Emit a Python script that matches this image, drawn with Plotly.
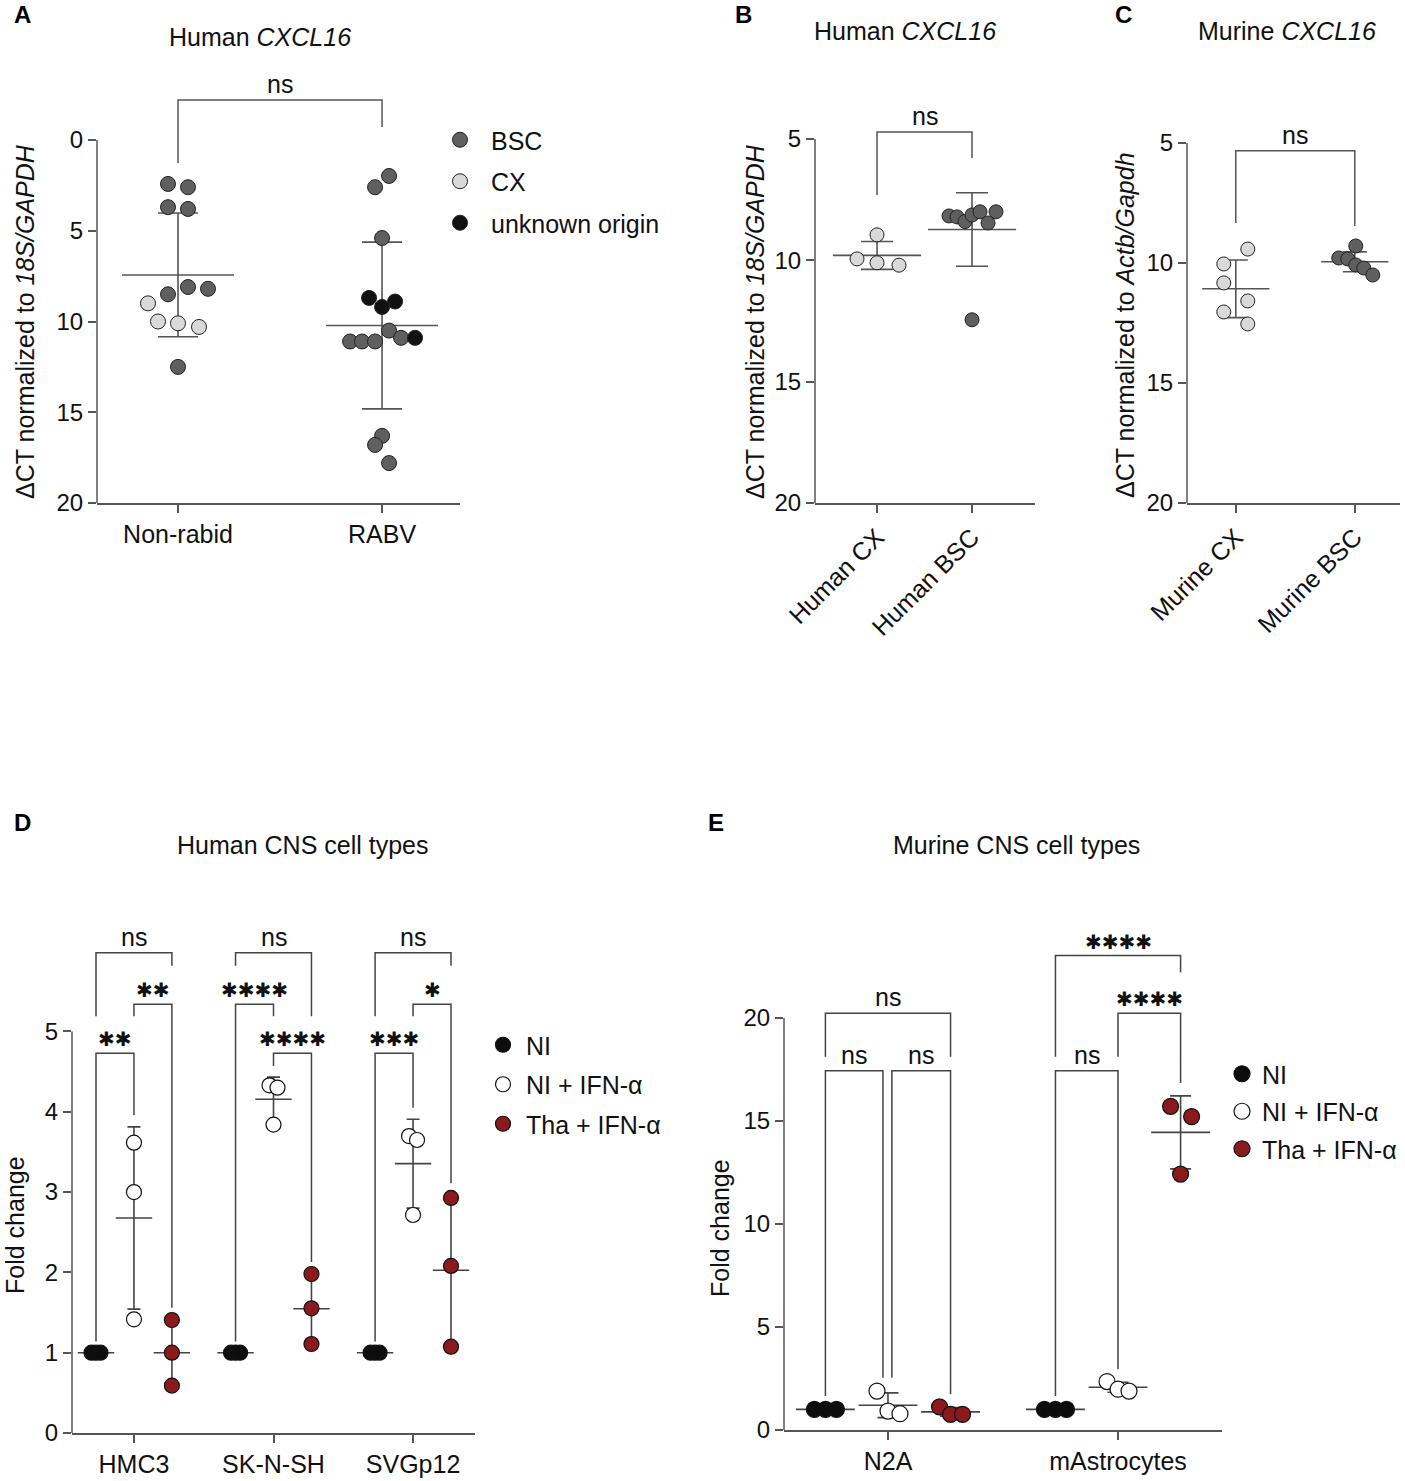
import numpy as np
import plotly.graph_objects as go

W, H = 1405, 1481
FONT = "Liberation Sans, Arial, sans-serif"
STAR_FONT = "DejaVu Sans"
LINE = "#555555"

# ---- A: human CXCL16, dCT (reversed axis)
a_groups = ["Non-rabid", "RABV"]
a_nonrabid = [2.42, 2.6, 3.7, 3.8, 8.1, 8.2, 8.5, 9.0, 10.0, 10.1, 10.3, 12.5]
a_nonrabid_origin = ["BSC"] * 7 + ["CX"] * 4 + ["BSC"]
a_nonrabid_dx = [-10, 10, -10, 10, 10, 30, -10, -30, -20, 0, 21, 0]
a_rabv = [1.98, 2.6, 5.4, 8.7, 8.9, 9.2, 10.5, 11.1, 11.1, 11.1, 10.9, 10.9, 16.3, 16.8, 17.8]
a_rabv_origin = ["BSC", "BSC", "BSC", "unknown origin", "unknown origin", "unknown origin",
                 "BSC", "BSC", "BSC", "BSC", "BSC", "unknown origin", "BSC", "BSC", "BSC"]
a_rabv_dx = [7, -7, 0, -13, 13, 0, 7, -32, -20, -7, 19, 33, 0, -7, 7]
origins = ["BSC", "CX", "unknown origin"]
origin_colors = {"BSC": "#5f5f5f", "CX": "#d9d9d9", "unknown origin": "#111111"}

# ---- B: human CXCL16 by region
b_groups = ["Human CX", "Human BSC"]
b_cx = [8.95, 9.94, 10.1, 10.2]
b_cx_dx = [0, -20, 0, 22]
b_bsc = [8.17, 8.21, 8.4, 8.13, 8.0, 8.46, 8.0, 12.45]
b_bsc_dx = [-23, -15, -7, 0, 8, 16, 24, 0]

# ---- C: murine CXCL16 by region
c_groups = ["Murine CX", "Murine BSC"]
c_cx = [9.42, 10.04, 10.83, 11.58, 12.04, 12.54]
c_cx_dx = [12, -12, -12, 12, -12, 12]
c_bsc = [9.29, 9.79, 9.83, 10.08, 10.21, 10.5]
c_bsc_dx = [1, -16, -7, 1, 9, 18]

# ---- D / E: fold change per cell type
treatments = ["NI", "NI + IFN-α", "Tha + IFN-α"]
treat_colors = ["#0d0d0d", "#ffffff", "#8b1a1d"]

d_groups = ["HMC3", "SK-N-SH", "SVGp12"]
d_ni = [[1, 1, 1], [1, 1, 1], [1, 1, 1]]
d_ifn = [[3.615, 3.0, 1.416], [4.33, 4.30, 3.84], [3.698, 3.649, 2.715]]
d_tha = [[1.407, 1.0, 0.59], [1.98, 1.553, 1.108], [2.927, 2.08, 1.075]]
d_dx = [[[-4.5, 0, 4.5]] * 3, [[0, 0, 0], [-4, 4, 0], [-4, 4, 0]], [[0, 0, 0]] * 3]

e_groups = ["N2A", "mAstrocytes"]
e_ni = [[1, 1, 1], [1, 1, 1]]
e_ifn = [[1.89, 0.92, 0.79], [2.35, 1.98, 1.89]]
e_tha = [[1.12, 0.76, 0.76], [15.71, 15.21, 12.42]]
e_dx = [[[-11, 0, 11]] * 2, [[-11, 0, 12], [-11, 0, 11]], [[-11, 0, 12], [-10, 11, 0]]]

SUB = 0.272  # spacing of treatments inside a cell type

# comparisons: (group, first, second, top, end of first leg, end of second leg, label)
d_tests = [
    (0, 0, 2, 5.98, 5.19, 5.82, "ns"), (0, 1, 2, 5.34, 5.19, 1.56, "✱✱"), (0, 0, 1, 4.73, 1.14, 3.96, "✱✱"),
    (1, 0, 2, 5.98, 5.82, 5.19, "ns"), (1, 0, 1, 5.34, 1.14, 5.19, "✱✱✱✱"), (1, 1, 2, 4.73, 4.57, 2.13, "✱✱✱✱"),
    (2, 0, 2, 5.98, 5.19, 5.82, "ns"), (2, 1, 2, 5.34, 5.19, 3.11, "✱"), (2, 0, 1, 4.73, 1.14, 4.05, "✱✱✱"),
]
e_tests = [
    (0, 0, 2, 20.23, 18.12, 18.12, "ns"), (0, 0, 1, 17.44, 1.65, 2.54, "ns"), (0, 1, 2, 17.44, 2.54, 1.73, "ns"),
    (1, 0, 1, 17.44, 1.65, 2.95, "ns"), (1, 1, 2, 20.23, 18.12, 16.84, "✱✱✱✱"), (1, 0, 2, 23.03, 18.12, 22.22, "✱✱✱✱"),
]


def fx(p):
    return p / W


def fy(p):
    return 1 - p / H


fig = go.Figure()
shapes = []
annotations = []


def stats(xs, groups, xa, ya, width, cap, color=LINE):
    fig.add_trace(go.Scatter(
        x=xs, y=[np.mean(v) for v in groups], mode="markers",
        marker=dict(symbol="line-ew", size=width, line=dict(width=1.6, color=color)),
        error_y=dict(type="data", array=[np.std(v, ddof=1) for v in groups], visible=True,
                     width=cap, thickness=1.6, color=color),
        xaxis=xa, yaxis=ya, showlegend=False, hoverinfo="skip"))


def bracket(xa, ya, x0, x1, top, e0, e1, label, color=LINE, star_size=20):
    shapes.append(dict(type="path", xref=xa, yref=ya, line=dict(color=color, width=1.5),
                       path=f"M {x0},{e0} L {x0},{top} L {x1},{top} L {x1},{e1}"))
    star = label != "ns"
    annotations.append(dict(
        x=(x0 + x1) / 2, y=top, xref=xa, yref=ya, text=label, showarrow=False,
        xanchor="center", yanchor="bottom", yshift=0,
        font=dict(family=STAR_FONT if star else FONT, size=star_size if star else 25, color="#111")))


# ---------- A
stats([0, 1], [a_nonrabid, a_rabv], "x", "y", 80, 20)
for o in origins:
    xs, ys = [], []
    for g, (vals, org, dx) in enumerate([(a_nonrabid, a_nonrabid_origin, a_nonrabid_dx),
                                         (a_rabv, a_rabv_origin, a_rabv_dx)]):
        for v, oo, d in zip(vals, org, dx):
            if oo == o:
                xs.append(g + d / 204)
                ys.append(v)
    fig.add_trace(go.Scatter(x=xs, y=ys, mode="markers", name=o, legend="legend", legendgroup=o,
                             marker=dict(size=15, color=origin_colors[o], line=dict(width=1, color="#222")),
                             xaxis="x", yaxis="y"))
bracket("x", "y", 0, 1, -2.2, 1.27, -0.72, "ns")

# ---------- B and C
for xa, ya, cx, cdx, bsc, bdx, scale, width, cap in [
        ("x2", "y2", b_cx, b_cx_dx, b_bsc, b_bsc_dx, 95, 63, 16),
        ("x3", "y3", c_cx, c_cx_dx, c_bsc, c_bsc_dx, 119, 48, 12)]:
    stats([0, 1], [cx, bsc], xa, ya, width, cap)
    for g, (vals, dx, col) in enumerate([(cx, cdx, origin_colors["CX"]), (bsc, bdx, origin_colors["BSC"])]):
        fig.add_trace(go.Scatter(x=[g + d / scale for d in dx], y=vals, mode="markers", showlegend=False,
                                 marker=dict(size=14, color=col, line=dict(width=1, color="#222")),
                                 xaxis=xa, yaxis=ya))
bracket("x2", "y2", 0, 1, 4.71, 7.31, 5.78, "ns")
bracket("x3", "y3", 0, 1, 5.32, 8.33, 8.46, "ns")

# ---------- D and E
for xa, ya, leg, data, dxs, scale, size, width, cap, tests, nudge in [
        ("x4", "y4", "legend2", [d_ni, d_ifn, d_tha], d_dx, 139.5, 15, 26, 6.5, d_tests, {}),
        ("x5", "y5", "legend3", [e_ni, e_ifn, e_tha], e_dx, 230, 16, 42, 10.5, e_tests,
         {(0, 0, 1): (0, -0.022), (0, 1, 2): (0.017, 0)})]:
    sx, sv = [], []
    for k in range(3):
        for g in range(len(data[k])):
            sx.append(g + (k - 1) * SUB)
            sv.append(data[k][g])
    stats(sx, sv, xa, ya, width, cap, "#444")
    for k, (name, col) in enumerate(zip(treatments, treat_colors)):
        xs, ys = [], []
        for g, vals in enumerate(data[k]):
            for v, d in zip(vals, dxs[k][g]):
                xs.append(g + (k - 1) * SUB + d / scale)
                ys.append(v)
        fig.add_trace(go.Scatter(x=xs, y=ys, mode="markers", name=name, legend=leg, legendgroup=leg + name,
                                 marker=dict(size=size, color=col, line=dict(width=1.2, color="#111")),
                                 xaxis=xa, yaxis=ya))
    for g, k0, k1, top, e0, e1, label in tests:
        n0, n1 = nudge.get((g, k0, k1), (0, 0))
        bracket(xa, ya, g + (k0 - 1) * SUB + n0, g + (k1 - 1) * SUB + n1, top, e0, e1, label, "#444")

# ---------- axes
panels = [
    # name, x px, y px (top, bottom), x range, y range, y ticks, y line span, x labels, tick angle
    ("", (97, 460), (90, 503), [-0.397, 1.382], [20, -2.755], [0, 5, 10, 15, 20], (0, 20), a_groups, 0),
    ("2", (815, 1035), (125, 503), [-0.653, 1.663], [20, 4.423], [5, 10, 15, 20], (5, 20), b_groups, -45),
    ("3", (1187, 1400), (130, 503), [-0.41, 1.38], [20, 4.458], [5, 10, 15, 20], (5, 20), c_groups, -45),
    ("4", (72, 475), (945, 1433), [-0.444, 2.444], [0, 6.077], [0, 1, 2, 3, 4, 5], (0, 5), d_groups, 0),
    ("5", (784, 1222), (945, 1430), [-0.452, 1.452], [0, 23.54], [0, 5, 10, 15, 20], (0, 20), e_groups, 0),
]
layout_axes = {}
for n, (x0, x1), (yt, yb), xr, yr, yt_vals, (l0, l1), labels, ang in panels:
    layout_axes["xaxis" + n] = dict(
        domain=[fx(x0), fx(x1)], range=xr, anchor="y" + n, showline=True, linecolor=LINE, linewidth=1.5,
        ticks="outside", ticklen=8, tickwidth=1.5, tickcolor=LINE, tickvals=list(range(len(labels))),
        ticktext=labels, tickangle=ang, tickfont=dict(size=25, color="#111"),
        showgrid=False, zeroline=False, fixedrange=True, automargin=False)
    layout_axes["yaxis" + n] = dict(
        domain=[fy(yb), fy(yt)], range=yr, anchor="x" + n, showline=False,
        ticks="outside", ticklen=8, tickwidth=1.5, tickcolor=LINE, tickvals=yt_vals,
        tickfont=dict(size=24, color="#111"), showgrid=False, zeroline=False, fixedrange=True,
        automargin=False)
    shapes.append(dict(type="line", xref="paper", yref="y" + n, x0=fx(x0), x1=fx(x0), y0=l0, y1=l1,
                       line=dict(color=LINE, width=1.5)))

# ---------- text
for txt, x, y in [("Human <i>CXCL16</i>", 260, 37), ("Human <i>CXCL16</i>", 905, 31),
                  ("Murine <i>CXCL16</i>", 1287, 31), ("Human CNS cell types", 302, 845),
                  ("Murine CNS cell types", 1016, 845)]:
    annotations.append(dict(x=fx(x), y=fy(y), xref="paper", yref="paper", text=txt, showarrow=False,
                            xanchor="center", yanchor="middle", font=dict(size=25, color="#111")))
for txt, x, y in [("A", 22, 15), ("B", 743, 15), ("C", 1123, 15), ("D", 22, 822), ("E", 716, 822)]:
    annotations.append(dict(x=fx(x), y=fy(y), xref="paper", yref="paper", text=f"<b>{txt}</b>",
                            xanchor="center", yanchor="middle", showarrow=False,
                            font=dict(size=24, color="#000")))
for txt, x, y in [("ΔCT normalized to <i>18S/GAPDH</i>", 25, 322),
                  ("ΔCT normalized to <i>18S/GAPDH</i>", 755, 322),
                  ("ΔCT normalized to <i>Actb/Gapdh</i>", 1125, 325),
                  ("Fold change", 15, 1225), ("Fold change", 720, 1228)]:
    annotations.append(dict(x=fx(x), y=fy(y), xref="paper", yref="paper", text=txt, showarrow=False,
                            xanchor="center", yanchor="middle", textangle=-90,
                            font=dict(size=25, color="#111")))

legend_style = dict(font=dict(size=25, color="#111"), xanchor="left", yanchor="top",
                    bgcolor="rgba(0,0,0,0)", itemsizing="trace", traceorder="grouped")
fig.update_layout(
    width=W, height=H, margin=dict(l=0, r=0, t=0, b=0, autoexpand=False),
    paper_bgcolor="white", plot_bgcolor="white",
    font=dict(family=FONT, size=25, color="#111"),
    shapes=shapes, annotations=annotations,
    legend=dict(x=fx(429), y=fy(117), itemwidth=52, tracegroupgap=6, **legend_style),
    legend2=dict(x=fx(480), y=fy(1022), itemwidth=36, tracegroupgap=4, **legend_style),
    legend3=dict(x=fx(1222), y=fy(1051), itemwidth=30, tracegroupgap=2, **legend_style),
    **layout_axes,
)

# the page body has a default 8px margin; drop it so the figure sits at the window corner
fig.write_html("out.html", config={"displayModeBar": False},
               post_script="document.body.style.margin = '0';")
